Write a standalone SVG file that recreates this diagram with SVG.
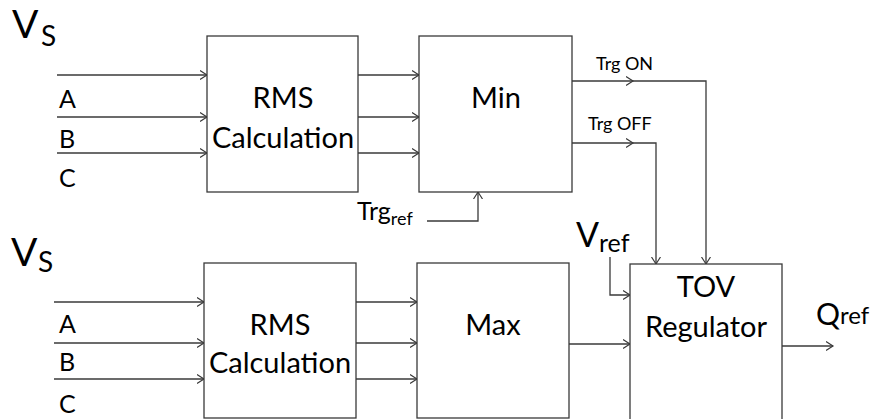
<svg xmlns="http://www.w3.org/2000/svg" width="879" height="419" viewBox="0 0 879 419">
<defs>
<marker id="arr" markerUnits="userSpaceOnUse" markerWidth="10" markerHeight="12" refX="7" refY="5" orient="auto">
<path d="M0,0.5 L7,5 L0,9.5" fill="none" stroke="#3a3a3a" stroke-width="1.2"/>
</marker>
<style>
.box{fill:#fff;stroke:#3a3a3a;stroke-width:1.3}
.ln{fill:none;stroke:#3a3a3a;stroke-width:1.3}
.ar{marker-end:url(#arr)}
text{font-family:Lato,"Open Sans","Liberation Sans",sans-serif;fill:#000}
.big{font-size:29px}
.lbl{font-size:25px}
.sm{font-size:18px}
</style>
</defs>
<rect width="879" height="419" fill="#fff"/>

<g id="connectors">
<path class="ln ar" d="M57,75 H207"/>
<path class="ln ar" d="M57,117 H207"/>
<path class="ln ar" d="M57,153 H207"/>
<path class="ln ar" d="M358,75 H419"/>
<path class="ln ar" d="M358,117 H419"/>
<path class="ln ar" d="M358,153 H419"/>
<path class="ln ar" d="M572,81 H633"/>
<path class="ln ar" d="M633,81 H706 V264"/>
<path class="ln ar" d="M572,143 H633"/>
<path class="ln ar" d="M633,143 H656 V264"/>
<path class="ln ar" d="M427,221 H478 V192"/>
<path class="ln ar" d="M54,302 H204"/>
<path class="ln ar" d="M54,343 H204"/>
<path class="ln ar" d="M54,379 H204"/>
<path class="ln ar" d="M356,302 H417"/>
<path class="ln ar" d="M356,343 H417"/>
<path class="ln ar" d="M356,379 H417"/>
<path class="ln ar" d="M569,344 H630"/>
<path class="ln ar" d="M610,257 V295 H630"/>
<path class="ln ar" d="M782,346 H833"/>
</g>

<g id="vs-top">
<text x="12" y="38" style="font-size:39px">V</text>
<text x="41" y="46" style="font-size:28px">S</text>
<text class="lbl" x="59" y="108">A</text>
<text class="lbl" x="59" y="148">B</text>
<text class="lbl" x="59" y="187">C</text>
</g>

<g id="rms-top">
<rect class="box" x="207" y="36" width="151" height="156"/>
<text class="big" x="283" y="108" text-anchor="middle">RMS</text>
<text class="big" x="283" y="148" text-anchor="middle">Calculation</text>
</g>

<g id="min">
<rect class="box" x="419" y="36" width="153" height="156"/>
<text class="big" x="496" y="108" text-anchor="middle">Min</text>
</g>

<g id="trg-labels">
<text class="sm" x="596" y="70">Trg ON</text>
<text class="sm" x="588" y="130">Trg OFF</text>
</g>

<g id="trgref">
<text x="357" y="220" style="font-size:25px">Trg<tspan dy="5" style="font-size:18px">ref</tspan></text>
</g>

<g id="vs-bottom">
<text x="11" y="266" style="font-size:39px">V</text>
<text x="38" y="272" style="font-size:28px">S</text>
<text class="lbl" x="59" y="333">A</text>
<text class="lbl" x="59" y="371">B</text>
<text class="lbl" x="59" y="413">C</text>
</g>

<g id="rms-bottom">
<rect class="box" x="204" y="263" width="152" height="155"/>
<text class="big" x="280" y="335" text-anchor="middle">RMS</text>
<text class="big" x="280" y="373" text-anchor="middle">Calculation</text>
</g>

<g id="max">
<rect class="box" x="417" y="263" width="152" height="155"/>
<text class="big" x="493" y="335" text-anchor="middle">Max</text>
</g>

<g id="vref">
<text x="576" y="247" style="font-size:34px">V<tspan dy="5" style="font-size:25px">ref</tspan></text>
</g>

<g id="tov">
<rect class="box" x="630" y="264" width="152" height="160"/>
<text class="big" x="706" y="297" text-anchor="middle">TOV</text>
<text class="big" x="706" y="337" text-anchor="middle">Regulator</text>
</g>

<g id="qref">
<text x="816" y="325" style="font-size:30px">Q<tspan dy="-1" style="font-size:24px">ref</tspan></text>
</g>
</svg>
